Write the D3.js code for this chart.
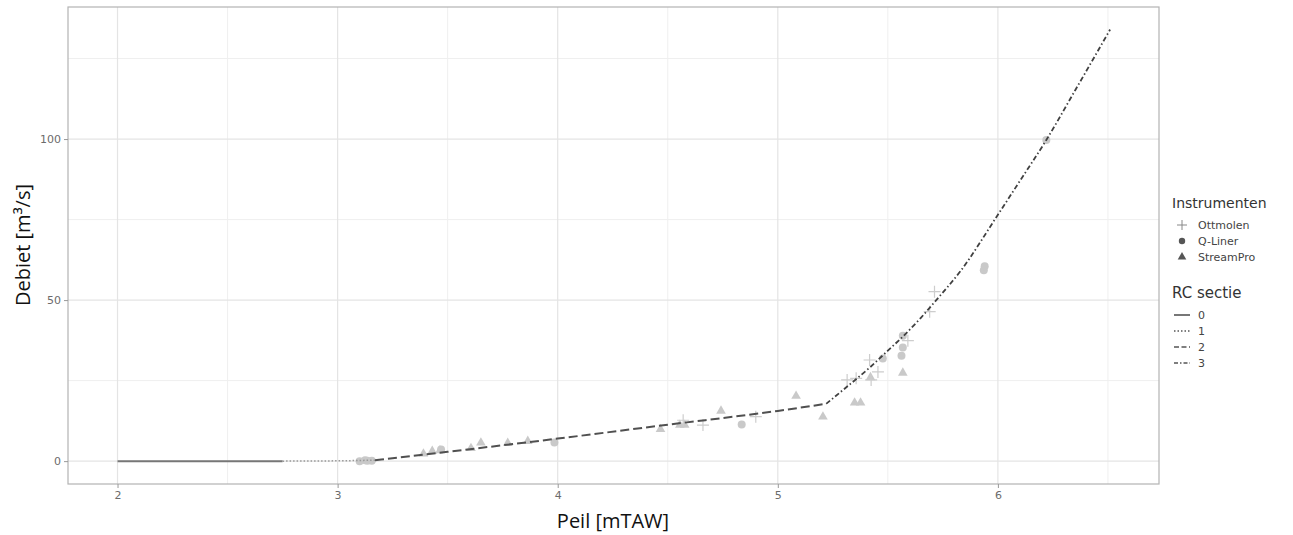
<!DOCTYPE html>
<html>
<head>
<meta charset="utf-8">
<script src="https://cdn.jsdelivr.net/npm/d3@7"></script>
<style>
  body { margin: 0; background: #fff; }
  svg { display: block; font-family: "DejaVu Sans", sans-serif; }
</style>
</head>
<body>
<div id="chart"></div>
<script>
// measurements, per instrument: [peil, debiet]
var ottmolen = [
  [4.57, 12.7], [4.66, 11.2], [4.90, 13.8], [5.315, 25.2], [5.356, 25.7],
  [5.417, 31.4], [5.424, 25.2], [5.455, 27.7], [5.591, 37.4], [5.69, 46.4], [5.712, 52.6]
];
var qliner = [
  [3.10, 0.0], [3.125, 0.3], [3.135, 0.1], [3.155, 0.1], [3.47, 3.6], [3.985, 5.8],
  [4.836, 11.4], [5.477, 31.9], [5.568, 38.9], [5.568, 35.3], [5.562, 32.7],
  [5.936, 59.3], [5.94, 60.5], [6.22, 99.7]
];
var streampro = [
  [3.39, 2.3], [3.43, 3.1], [3.465, 3.3], [3.606, 4.0], [3.651, 5.7], [3.773, 5.6],
  [3.864, 6.2], [4.467, 9.9], [4.555, 11.2], [4.577, 11.2], [4.742, 15.6],
  [5.083, 20.2], [5.205, 13.8], [5.349, 18.1], [5.376, 18.1], [5.421, 26.0], [5.568, 27.4]
];

// rating curve sections
var rc0 = [[2.0, 0], [2.75, 0]];
var rc1 = [[2.75, 0], [3.0, 0.1], [3.17, 0.3]];
var rc2 = [[3.17, 0.3], [3.5, 2.9], [4.0, 7.0], [4.5, 11.3], [5.0, 15.6], [5.22, 17.8]];
var rc3 = [[5.22, 17.8], [5.3, 22.3], [5.42, 29.2], [5.5, 34.3], [5.57, 38.8], [5.65, 44.5],
  [5.72, 50], [5.83, 59], [6.0, 76.5], [6.1, 87], [6.22, 99.7], [6.35, 115], [6.51, 134]];

var xTicks = [2, 3, 4, 5, 6];
var yTicks = [0, 50, 100];
var xMinor = [2.5, 3.5, 4.5, 5.5, 6.5];
var yMinor = [25, 75, 125];
var instrumenten = ["Ottmolen", "Q-Liner", "StreamPro"];
var secties = ["0", "1", "2", "3"];

var W = 1293, H = 535;
var pLeft = 68, pRight = 1159, pTop = 7, pBottom = 484;

var x = d3.scaleLinear().domain([1.775, 6.732]).range([pLeft, pRight]);
var y = d3.scaleLinear().domain([-7.1, 141]).range([pBottom, pTop]);

var svg = d3.select("#chart").append("svg").attr("width", W).attr("height", H);

// grid
var grid = svg.append("g");
grid.selectAll("line.xmin").data(xMinor).enter().append("line")
  .attr("x1", d => x(d)).attr("x2", d => x(d)).attr("y1", pTop).attr("y2", pBottom)
  .attr("stroke", "#efefef").attr("stroke-width", 1);
grid.selectAll("line.ymin").data(yMinor).enter().append("line")
  .attr("x1", pLeft).attr("x2", pRight).attr("y1", d => y(d)).attr("y2", d => y(d))
  .attr("stroke", "#efefef").attr("stroke-width", 1);
grid.selectAll("line.xmaj").data(xTicks).enter().append("line")
  .attr("x1", d => x(d)).attr("x2", d => x(d)).attr("y1", pTop).attr("y2", pBottom)
  .attr("stroke", "#e4e4e4").attr("stroke-width", 1.2);
grid.selectAll("line.ymaj").data(yTicks).enter().append("line")
  .attr("x1", pLeft).attr("x2", pRight).attr("y1", d => y(d)).attr("y2", d => y(d))
  .attr("stroke", "#e4e4e4").attr("stroke-width", 1.2);

// points
var ptColor = "#c4c4c4";
var pts = svg.append("g").attr("opacity", 0.9);
pts.selectAll("path.tri").data(streampro).enter().append("path")
  .attr("d", d3.symbol().type(d3.symbolTriangle).size(40))
  .attr("transform", d => "translate(" + x(d[0]) + "," + y(d[1]) + ")")
  .attr("fill", ptColor);
pts.selectAll("circle").data(qliner).enter().append("circle")
  .attr("cx", d => x(d[0])).attr("cy", d => y(d[1])).attr("r", 4)
  .attr("fill", ptColor);
pts.selectAll("path.plus").data(ottmolen).enter().append("path")
  .attr("d", "M-6,0H6M0,-6V6")
  .attr("transform", d => "translate(" + x(d[0]) + "," + y(d[1]) + ")")
  .attr("stroke", "#c8c8c8").attr("stroke-width", 1.2).attr("fill", "none");

// rating curve
var line = d3.line().x(d => x(d[0])).y(d => y(d[1])).curve(d3.curveMonotoneX);
var styles = [
  { data: rc0, color: "#777", dash: null, w: 2 },
  { data: rc1, color: "#999", dash: "1.5,2", w: 1.5 },
  { data: rc2, color: "#505050", dash: "9,4", w: 2 },
  { data: rc3, color: "#404040", dash: "5,2.5,1.5,2.5", w: 1.8 }
];
styles.forEach(function (s) {
  svg.append("path").datum(s.data).attr("d", line)
    .attr("fill", "none").attr("stroke", s.color).attr("stroke-width", s.w)
    .attr("stroke-dasharray", s.dash);
});

// panel border
svg.append("rect").attr("x", pLeft).attr("y", pTop)
  .attr("width", pRight - pLeft).attr("height", pBottom - pTop)
  .attr("fill", "none").attr("stroke", "#b3b3b3").attr("stroke-width", 1.2);

// axes
var xAxis = svg.append("g").attr("transform", "translate(0," + pBottom + ")")
  .call(d3.axisBottom(x).tickValues(xTicks).tickFormat(d3.format("d")).tickSize(4).tickPadding(3));
var yAxis = svg.append("g").attr("transform", "translate(" + pLeft + ",0)")
  .call(d3.axisLeft(y).tickValues(yTicks).tickFormat(d3.format("d")).tickSize(4).tickPadding(3));
[xAxis, yAxis].forEach(function (a) {
  a.select(".domain").remove();
  a.selectAll(".tick line").attr("stroke", "#999");
  a.selectAll(".tick text").attr("fill", "#6b6b6b").style("font-size", "11px")
    .style("font-family", "DejaVu Sans, sans-serif");
});

svg.append("text").attr("x", 613).attr("y", 528).attr("text-anchor", "middle")
  .style("font-family", "Open Sans, sans-serif").style("font-size", "20px").attr("fill", "#111")
  .text("Peil [mTAW]");
svg.append("text").attr("transform", "translate(30,245) rotate(-90)").attr("text-anchor", "middle")
  .style("font-family", "Open Sans, sans-serif").style("font-size", "20px").attr("fill", "#111")
  .text("Debiet [m³/s]");

// legend: instrumenten
var lg = svg.append("g").style("font-family", "DejaVu Sans, sans-serif");
lg.append("text").attr("x", 1172).attr("y", 208).style("font-size", "14px").attr("fill", "#333")
  .text("Instrumenten");
lg.selectAll("text.inst").data(instrumenten).enter().append("text")
  .attr("x", 1198).attr("y", (d, i) => 229 + i * 16).style("font-size", "11px").attr("fill", "#444")
  .text(d => d);
lg.append("path").attr("d", "M-5,0H5M0,-5V5").attr("transform", "translate(1182,225)")
  .attr("stroke", "#888").attr("stroke-width", 1).attr("fill", "none");
lg.append("circle").attr("cx", 1182).attr("cy", 241).attr("r", 3.2).attr("fill", "#555");
lg.append("path").attr("d", d3.symbol().type(d3.symbolTriangle).size(32))
  .attr("transform", "translate(1182,257)").attr("fill", "#555");

// legend: RC sectie
lg.append("text").attr("x", 1172).attr("y", 298).style("font-size", "15px").attr("fill", "#333")
  .text("RC sectie");
lg.selectAll("line.rc").data(styles).enter().append("line")
  .attr("x1", 1174).attr("x2", 1190)
  .attr("y1", (d, i) => 315 + i * 16).attr("y2", (d, i) => 315 + i * 16)
  .attr("stroke", "#555").attr("stroke-width", 1.6)
  .attr("stroke-dasharray", (d, i) => [null, "1.5,2", "5,2.5", "4,2,1.5,2"][i]);
lg.selectAll("text.rc").data(secties).enter().append("text")
  .attr("x", 1198).attr("y", (d, i) => 319 + i * 16).style("font-size", "11px").attr("fill", "#444")
  .text(d => d);
</script>
</body>
</html>
